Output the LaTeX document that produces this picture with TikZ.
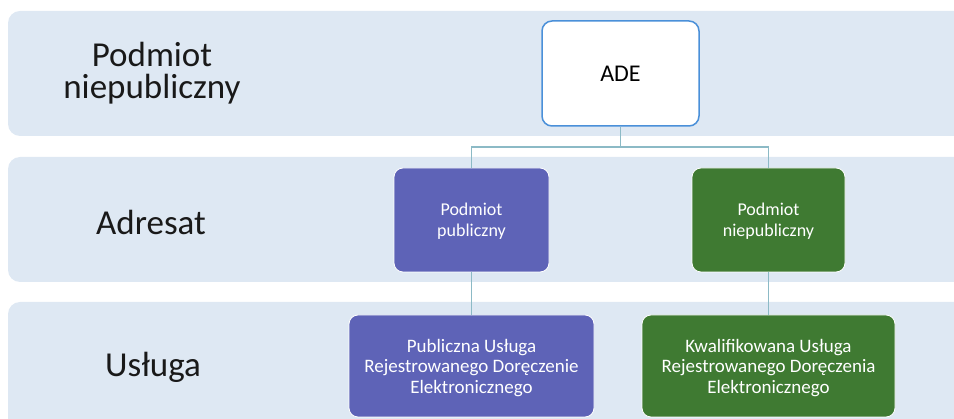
\documentclass[tikz,border=0pt]{standalone}
\usepackage{fontspec}
\setmainfont{Carlito}
\definecolor{band}{RGB}{222,232,243}
\definecolor{purp}{RGB}{94,99,183}
\definecolor{grn}{RGB}{63,122,50}
\definecolor{conn}{RGB}{140,186,198}
\definecolor{adeb}{RGB}{74,144,217}
\begin{document}
\begin{tikzpicture}[x=1pt,y=-1pt,
  bandbox/.style={fill=band, draw=none, rounded corners=12pt},
  lbl/.style={align=center, font=\fontsize{35}{32}\selectfont, text=black!90, inner sep=0pt},
  box/.style={rounded corners=9pt, align=center, text=white, draw=white, line width=0.8pt,
    font=\fontsize{18}{21}\selectfont, inner sep=2pt, text depth=0pt},
  bigbox/.style={box, font=\fontsize{19}{20.5}\selectfont},
  link/.style={draw=conn, line width=1.5pt}]
\useasboundingbox (0,0) rectangle (954,419);
\clip (0,0) rectangle (954,419);
\fill[bandbox] (8,11) rectangle (980,136);
\fill[bandbox] (8,157) rectangle (980,282);
\fill[bandbox] (8,302) rectangle (980,450);
\node[lbl] (l1) at (152,73) {Podmiot\\niepubliczny};
\node[lbl] (l2) at (151,222) {Adresat};
\node[lbl] (l3) at (153,367) {Usługa};
\node[rounded corners=10pt, fill=white, draw=adeb, line width=1.5pt,
  minimum width=157pt, minimum height=105pt, font=\fontsize{24}{26}\selectfont] (ade) at (620.5,73.5) {ADE};
\node[box, fill=purp, minimum width=155pt, minimum height=104pt] (pp) at (471.5,220) {Podmiot\\publiczny};
\node[box, fill=grn, minimum width=153pt, minimum height=104pt] (pn) at (768.5,220) {Podmiot\\niepubliczny};
\node[bigbox, fill=purp, minimum width=245pt, minimum height=102pt] (up) at (471.5,366) {Publiczna Usługa\\Rejestrowanego Doręczenie\\Elektronicznego};
\node[bigbox, fill=grn, minimum width=253pt, minimum height=102pt] (un) at (768.5,366) {Kwalifikowana Usługa\\Rejestrowanego Doręczenia\\Elektronicznego};
\coordinate (j) at (620.5,147);
\draw[link] (ade.south) -- (j) -| (pp.north);
\draw[link] (j) -| (pn.north);
\draw[link] (pp.south) -- (up.north);
\draw[link] (pn.south) -- (un.north);
\end{tikzpicture}
\end{document}
